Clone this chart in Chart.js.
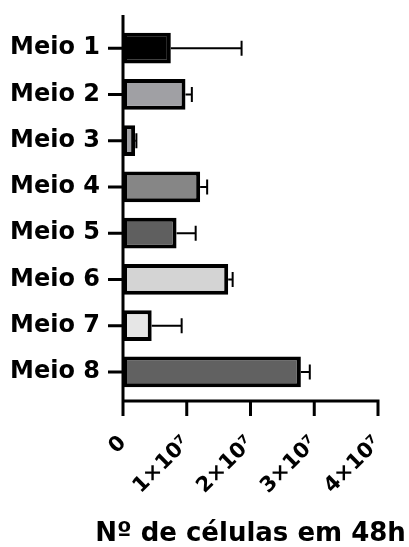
<!DOCTYPE html>
<html>
<head>
<meta charset="utf-8">
<script src="https://cdn.jsdelivr.net/npm/chart.js@4/dist/chart.umd.min.js"></script>
<style>
html,body{margin:0;padding:0;background:#fff;}
#wrap{width:409px;height:547px;position:relative;}
</style>
</head>
<body>
<div id="wrap"><canvas id="c"></canvas></div>
<script>
const categories = ["Meio 1","Meio 2","Meio 3","Meio 4","Meio 5","Meio 6","Meio 7","Meio 8"];
const means = [0.75e7, 0.98e7, 0.19e7, 1.21e7, 0.84e7, 1.65e7, 0.45e7, 2.79e7];
const errors = [1.11e7, 0.10e7, 0.02e7, 0.11e7, 0.30e7, 0.07e7, 0.47e7, 0.14e7];
const fillColors = ["#000000","#a0a0a4","#a0a0a4","#868686","#5f5f5f","#d4d4d4","#e6e6e6","#616161"];
const xTickValues = [0, 1e7, 2e7, 3e7, 4e7];
const xTickLabels = ["0","1×10⁷","2×10⁷","3×10⁷","4×10⁷"];
const axisTitle = "Nº de células em 48h";

const FONT = "'DejaVu Sans', sans-serif";

function zeroPad(scale) {
  scale.paddingTop = 0; scale.paddingBottom = 0;
  scale.paddingLeft = 0; scale.paddingRight = 0;
}

const axesPlugin = {
  id: 'axesAndErrors',
  afterDatasetsDraw(chart) {
    const ctx = chart.ctx;
    const xs = chart.scales.x, ys = chart.scales.y;
    const x0 = xs.getPixelForValue(0);
    const xEnd = xs.getPixelForValue(xTickValues[xTickValues.length - 1]);
    const area = chart.chartArea;
    const axisY = area.bottom + 6;
    ctx.save();
    ctx.strokeStyle = '#000';
    ctx.lineCap = 'butt';
    // error bars
    ctx.lineWidth = 2;
    means.forEach((m, i) => {
      const y = ys.getPixelForValue(i);
      const xa = xs.getPixelForValue(m);
      const xb = xs.getPixelForValue(m + errors[i]);
      ctx.beginPath();
      ctx.moveTo(xa, y); ctx.lineTo(xb, y);
      ctx.moveTo(xb, y - 7.5); ctx.lineTo(xb, y + 7.5);
      ctx.stroke();
    });
    // axes
    ctx.lineWidth = 3;
    ctx.beginPath();
    ctx.moveTo(x0, area.top - 10); ctx.lineTo(x0, axisY + 1.5);
    ctx.moveTo(x0 - 1.5, axisY); ctx.lineTo(xEnd + 1.5, axisY);
    xTickValues.forEach(v => {
      const px = xs.getPixelForValue(v);
      ctx.moveTo(px, axisY); ctx.lineTo(px, axisY + 15);
    });
    categories.forEach((c, i) => {
      const py = ys.getPixelForValue(i);
      ctx.moveTo(x0 - 15, py); ctx.lineTo(x0, py);
    });
    ctx.stroke();
    // axis title
    ctx.fillStyle = '#000';
    ctx.font = "bold 26px " + FONT;
    ctx.textAlign = 'center';
    ctx.textBaseline = 'alphabetic';
    ctx.fillText(axisTitle, (x0 + xEnd) / 2, 541);
    ctx.restore();
  }
};

new Chart(document.getElementById('c'), {
  type: 'bar',
  data: {
    labels: categories,
    datasets: [{
      data: means,
      backgroundColor: fillColors,
      borderColor: '#000',
      borderWidth: 4,
      borderSkipped: false,
      barPercentage: 0.66,
      categoryPercentage: 1.0
    }]
  },
  options: {
    indexAxis: 'y',
    responsive: true,
    maintainAspectRatio: false,
    animation: false,
    layout: { padding: { top: 25, right: 31, left: 0, bottom: 0 } },
    plugins: { legend: { display: false }, tooltip: { enabled: false } },
    scales: {
      y: {
        type: 'category',
        offset: true,
        grid: { display: false },
        border: { display: false },
        ticks: { color: '#000', font: { family: FONT, size: 24, weight: 'bold' }, padding: 15 },
        afterFit(scale) { scale.width = 123; zeroPad(scale); }
      },
      x: {
        type: 'linear',
        min: 0, max: 4e7,
        afterBuildTicks(scale) { scale.ticks = xTickValues.map(v => ({ value: v })); },
        grid: { display: false },
        border: { display: false },
        ticks: {
          color: '#000',
          font: { family: FONT, size: 21, weight: 'bold' },
          minRotation: 45, maxRotation: 45,
          padding: 28,
          callback(value) { const i = xTickValues.indexOf(value); return i >= 0 ? xTickLabels[i] : ''; }
        },
        title: { display: false },
        afterFit(scale) { scale.height = 152; zeroPad(scale); }
      }
    }
  },
  plugins: [axesPlugin]
});
</script>
</body>
</html>
